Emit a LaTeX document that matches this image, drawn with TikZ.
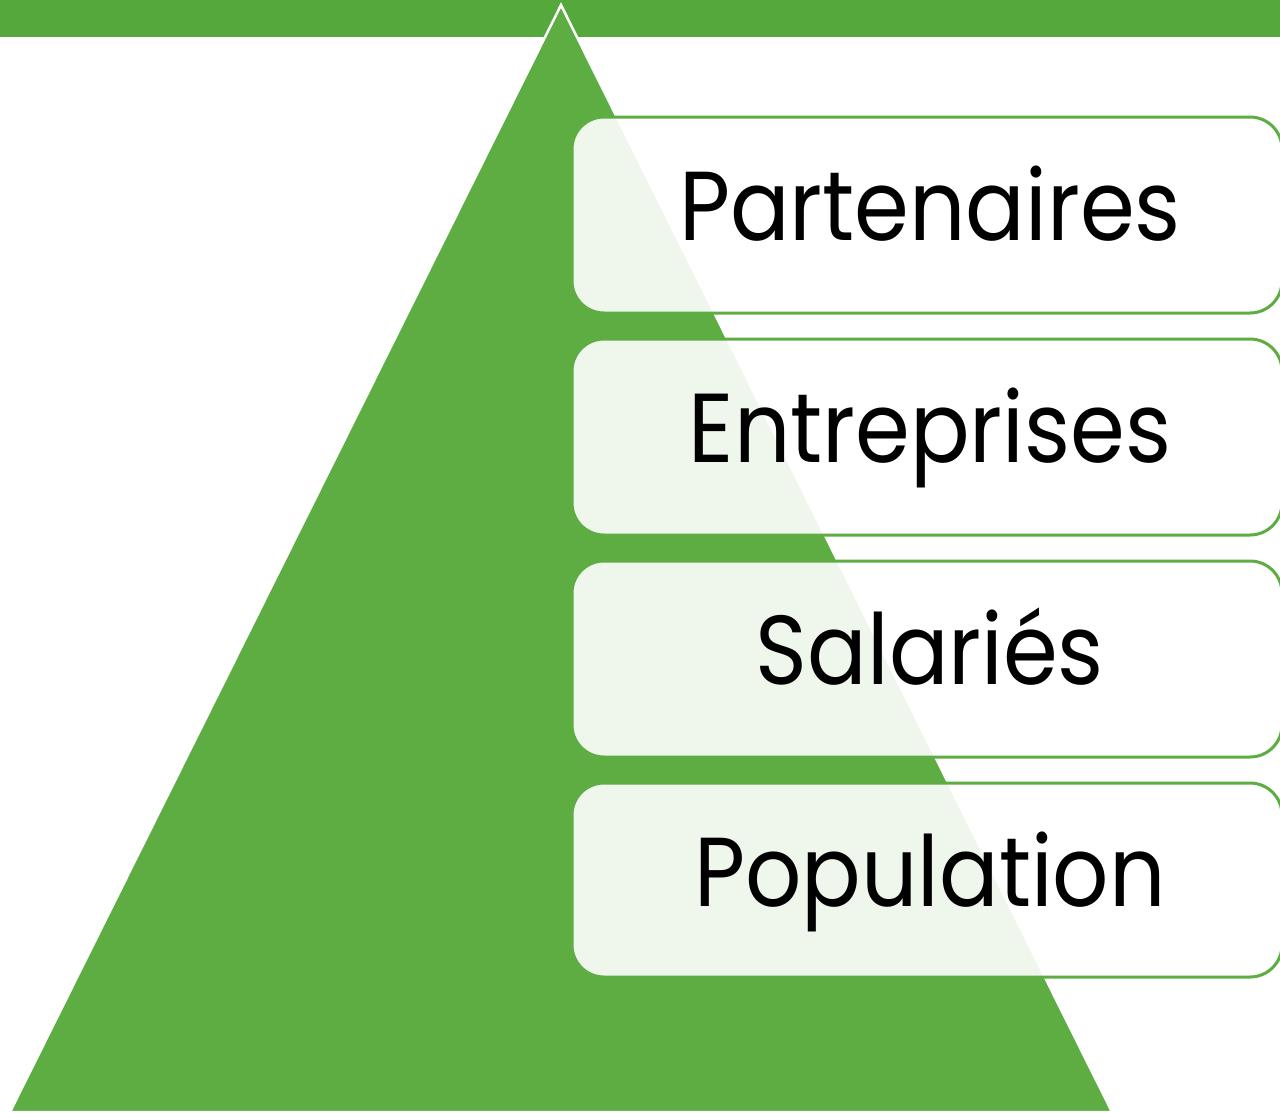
\documentclass[tikz,border=0pt]{standalone}
\usepackage{fontspec}
\setmainfont{Poppins}
\definecolor{bargreen}{HTML}{55A83C}
\definecolor{trigreen}{HTML}{5EAD43}
\definecolor{boxgreen}{HTML}{5EAD43}
\begin{document}
\begin{tikzpicture}[x=1pt,y=-1pt,
  layerbox/.style={draw=boxgreen, line width=3pt, fill=white, fill opacity=0.9, draw opacity=1,
    rounded corners=32pt},
  layertext/.style={font=\fontsize{98}{110}\selectfont, text=black, text opacity=1, anchor=base, xscale=0.9}]
\useasboundingbox (0,0) rectangle (1280,1112);
\fill[bargreen] (0,0) rectangle (1280,37);
\begin{scope}
\clip (0,0) rectangle (1280,1112);
\filldraw[fill=trigreen, draw=white, line width=2.5pt, line join=miter] (561,5) -- (1112,1112) -- (10,1112) -- cycle;
\foreach \n/\t/\yt/\yb in {p/Partenaires/117/313, e/Entreprises/339/535, s/Salariés/561/757, q/Population/783/977}{
  \draw[layerbox] (572,\yt) rectangle (1282,\yb);
  \node[layertext] (\n) at (930,\yt+123) {\t};
}
\end{scope}
\end{tikzpicture}
\end{document}
